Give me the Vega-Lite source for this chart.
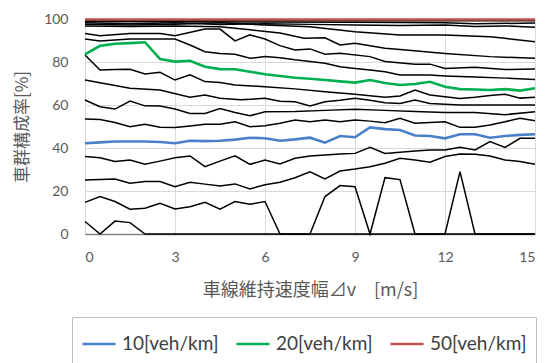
{
 "$schema": "https://vega.github.io/schema/vega-lite/v6.json",
 "width": 450, "height": 215,
 "autosize": {"type": "none"},
 "padding": {"left": 85, "top": 19, "right": 12, "bottom": 129},
 "config": {"view": {"stroke": null}, "font": "Lato"},
 "data": {"values": [
  {"s":"50[veh/km]","x":0,"v":99.8},{"s":"50[veh/km]","x":3,"v":99.8},{"s":"50[veh/km]","x":6,"v":99.8},{"s":"50[veh/km]","x":9,"v":99.8},{"s":"50[veh/km]","x":12,"v":99.8},{"s":"50[veh/km]","x":15,"v":99.8},
  {"s":"10[veh/km]","x":0,"v":42.2},{"s":"10[veh/km]","x":0.5,"v":42.6},{"s":"10[veh/km]","x":1,"v":43},{"s":"10[veh/km]","x":1.5,"v":43},{"s":"10[veh/km]","x":2,"v":43},{"s":"10[veh/km]","x":2.5,"v":42.8},{"s":"10[veh/km]","x":3,"v":42.2},{"s":"10[veh/km]","x":3.5,"v":43.4},{"s":"10[veh/km]","x":4,"v":43.2},{"s":"10[veh/km]","x":4.5,"v":43.4},{"s":"10[veh/km]","x":5,"v":43.9},{"s":"10[veh/km]","x":5.5,"v":44.8},{"s":"10[veh/km]","x":6,"v":44.5},{"s":"10[veh/km]","x":6.5,"v":43.4},{"s":"10[veh/km]","x":7,"v":44},{"s":"10[veh/km]","x":7.5,"v":44.8},{"s":"10[veh/km]","x":8,"v":42.5},{"s":"10[veh/km]","x":8.5,"v":45.6},{"s":"10[veh/km]","x":9,"v":45},{"s":"10[veh/km]","x":9.5,"v":49.6},{"s":"10[veh/km]","x":10,"v":48.8},{"s":"10[veh/km]","x":10.5,"v":48.4},{"s":"10[veh/km]","x":11,"v":45.8},{"s":"10[veh/km]","x":11.5,"v":45.6},{"s":"10[veh/km]","x":12,"v":44.5},{"s":"10[veh/km]","x":12.5,"v":46.4},{"s":"10[veh/km]","x":13,"v":46.4},{"s":"10[veh/km]","x":13.5,"v":44.8},{"s":"10[veh/km]","x":14,"v":45.6},{"s":"10[veh/km]","x":14.5,"v":46.1},{"s":"10[veh/km]","x":15,"v":46.4},
  {"s":"20[veh/km]","x":0,"v":83.6},{"s":"20[veh/km]","x":0.5,"v":87.5},{"s":"20[veh/km]","x":1,"v":88.5},{"s":"20[veh/km]","x":1.5,"v":88.8},{"s":"20[veh/km]","x":2,"v":89.2},{"s":"20[veh/km]","x":2.5,"v":81.4},{"s":"20[veh/km]","x":3,"v":80.2},{"s":"20[veh/km]","x":3.5,"v":80.6},{"s":"20[veh/km]","x":4,"v":77.8},{"s":"20[veh/km]","x":4.5,"v":76.7},{"s":"20[veh/km]","x":5,"v":76.6},{"s":"20[veh/km]","x":5.5,"v":75.5},{"s":"20[veh/km]","x":6,"v":74.3},{"s":"20[veh/km]","x":6.5,"v":73.5},{"s":"20[veh/km]","x":7,"v":72.7},{"s":"20[veh/km]","x":7.5,"v":72.2},{"s":"20[veh/km]","x":8,"v":71.6},{"s":"20[veh/km]","x":8.5,"v":71},{"s":"20[veh/km]","x":9,"v":70.4},{"s":"20[veh/km]","x":9.5,"v":71.6},{"s":"20[veh/km]","x":10,"v":70.2},{"s":"20[veh/km]","x":10.5,"v":69.3},{"s":"20[veh/km]","x":11,"v":69.8},{"s":"20[veh/km]","x":11.5,"v":70.8},{"s":"20[veh/km]","x":12,"v":68.5},{"s":"20[veh/km]","x":12.5,"v":67.4},{"s":"20[veh/km]","x":13,"v":67.2},{"s":"20[veh/km]","x":13.5,"v":67},{"s":"20[veh/km]","x":14,"v":67.4},{"s":"20[veh/km]","x":14.5,"v":66.7},{"s":"20[veh/km]","x":15,"v":67.8},
  {"s":"L1","x":0,"v":5.8},{"s":"L1","x":0.5,"v":0},{"s":"L1","x":1,"v":6},{"s":"L1","x":1.5,"v":5.3},{"s":"L1","x":2,"v":0},{"s":"L1","x":7.5,"v":0},{"s":"L1","x":8,"v":17.4},{"s":"L1","x":8.5,"v":22.5},{"s":"L1","x":9,"v":22},{"s":"L1","x":9.5,"v":0},{"s":"L1","x":10,"v":26.2},{"s":"L1","x":10.5,"v":25.3},{"s":"L1","x":11,"v":0},{"s":"L1","x":12,"v":0},{"s":"L1","x":12.5,"v":29},{"s":"L1","x":13,"v":0},{"s":"L1","x":15,"v":0},
  {"s":"L2","x":0,"v":14.7},{"s":"L2","x":0.5,"v":17.4},{"s":"L2","x":1,"v":15.1},{"s":"L2","x":1.5,"v":11.5},{"s":"L2","x":2,"v":12},{"s":"L2","x":2.5,"v":14.3},{"s":"L2","x":3,"v":11.6},{"s":"L2","x":3.5,"v":12.7},{"s":"L2","x":4,"v":14.7},{"s":"L2","x":4.5,"v":11.5},{"s":"L2","x":5,"v":15.1},{"s":"L2","x":5.5,"v":13.8},{"s":"L2","x":6,"v":15.1},{"s":"L2","x":6.5,"v":0},{"s":"L2","x":15,"v":0},
  {"s":"L3","x":0,"v":25.1},{"s":"L3","x":0.5,"v":25.3},{"s":"L3","x":1,"v":25.6},{"s":"L3","x":1.5,"v":23.6},{"s":"L3","x":2,"v":24.4},{"s":"L3","x":2.5,"v":24.4},{"s":"L3","x":3,"v":22},{"s":"L3","x":3.5,"v":24.1},{"s":"L3","x":4,"v":23.2},{"s":"L3","x":4.5,"v":22.3},{"s":"L3","x":5,"v":23.3},{"s":"L3","x":5.5,"v":21},{"s":"L3","x":6,"v":22.9},{"s":"L3","x":6.5,"v":24.1},{"s":"L3","x":7,"v":26.2},{"s":"L3","x":7.5,"v":28.9},{"s":"L3","x":8,"v":25.6},{"s":"L3","x":8.5,"v":29.3},{"s":"L3","x":9,"v":30.2},{"s":"L3","x":9.5,"v":31.3},{"s":"L3","x":10,"v":32.9},{"s":"L3","x":10.5,"v":35.2},{"s":"L3","x":11,"v":34.4},{"s":"L3","x":11.5,"v":33.4},{"s":"L3","x":12,"v":36},{"s":"L3","x":12.5,"v":37.2},{"s":"L3","x":13,"v":37.1},{"s":"L3","x":13.5,"v":36.3},{"s":"L3","x":14,"v":34.4},{"s":"L3","x":14.5,"v":33.7},{"s":"L3","x":15,"v":32.4},
  {"s":"L4","x":0,"v":36},{"s":"L4","x":0.5,"v":35.5},{"s":"L4","x":1,"v":33.7},{"s":"L4","x":1.5,"v":34.4},{"s":"L4","x":2,"v":32.4},{"s":"L4","x":2.5,"v":33.9},{"s":"L4","x":3,"v":35.5},{"s":"L4","x":3.5,"v":36.3},{"s":"L4","x":4,"v":31.3},{"s":"L4","x":4.5,"v":33.9},{"s":"L4","x":5,"v":36.4},{"s":"L4","x":5.5,"v":32.4},{"s":"L4","x":6,"v":34.4},{"s":"L4","x":6.5,"v":32.6},{"s":"L4","x":7,"v":35.2},{"s":"L4","x":7.5,"v":36.3},{"s":"L4","x":8,"v":36.7},{"s":"L4","x":8.5,"v":37.2},{"s":"L4","x":9,"v":37.5},{"s":"L4","x":9.5,"v":40.3},{"s":"L4","x":10,"v":37.5},{"s":"L4","x":10.5,"v":38},{"s":"L4","x":11,"v":38.6},{"s":"L4","x":11.5,"v":39.1},{"s":"L4","x":12,"v":39.1},{"s":"L4","x":12.5,"v":40.3},{"s":"L4","x":13,"v":39.1},{"s":"L4","x":13.5,"v":43},{"s":"L4","x":14,"v":40.3},{"s":"L4","x":14.5,"v":44.5},{"s":"L4","x":15,"v":44.5},
  {"s":"L5","x":0,"v":53.5},{"s":"L5","x":0.5,"v":53.3},{"s":"L5","x":1,"v":51.9},{"s":"L5","x":1.5,"v":49.9},{"s":"L5","x":2,"v":51},{"s":"L5","x":2.5,"v":49.6},{"s":"L5","x":3,"v":49.5},{"s":"L5","x":3.5,"v":50.2},{"s":"L5","x":4,"v":51},{"s":"L5","x":4.5,"v":51},{"s":"L5","x":5,"v":52.2},{"s":"L5","x":5.5,"v":49.9},{"s":"L5","x":6,"v":50.4},{"s":"L5","x":6.5,"v":51.5},{"s":"L5","x":7,"v":53},{"s":"L5","x":7.5,"v":52.2},{"s":"L5","x":8,"v":53},{"s":"L5","x":8.5,"v":52.2},{"s":"L5","x":9,"v":53},{"s":"L5","x":9.5,"v":52.5},{"s":"L5","x":10,"v":51.8},{"s":"L5","x":10.5,"v":53.8},{"s":"L5","x":11,"v":51.5},{"s":"L5","x":11.5,"v":51.9},{"s":"L5","x":12,"v":52.2},{"s":"L5","x":12.5,"v":49.6},{"s":"L5","x":13,"v":49.6},{"s":"L5","x":13.5,"v":50.7},{"s":"L5","x":14,"v":52.2},{"s":"L5","x":14.5,"v":53.8},{"s":"L5","x":15,"v":52.7},
  {"s":"LA","x":0,"v":62.3},{"s":"LA","x":0.5,"v":59.2},{"s":"LA","x":1,"v":58.1},{"s":"LA","x":1.5,"v":61.8},{"s":"LA","x":2,"v":59.6},{"s":"LA","x":2.5,"v":59.5},{"s":"LA","x":3,"v":58.1},{"s":"LA","x":3.5,"v":56.1},{"s":"LA","x":4,"v":56.1},{"s":"LA","x":4.5,"v":58.4},{"s":"LA","x":5,"v":56.5},{"s":"LA","x":5.5,"v":55},{"s":"LA","x":6,"v":56.9},{"s":"LA","x":7,"v":57},{"s":"LA","x":8,"v":57.5},{"s":"LA","x":9,"v":58},{"s":"LA","x":10,"v":57.5},{"s":"LA","x":11,"v":57},{"s":"LA","x":12,"v":56.5},{"s":"LA","x":13,"v":56.5},{"s":"LA","x":14,"v":55.5},{"s":"LA","x":15,"v":56.9},
  {"s":"L71","x":0,"v":71.6},{"s":"L71","x":1.5,"v":67.8},{"s":"L71","x":2.5,"v":67},{"s":"L71","x":3.5,"v":63.6},{"s":"L71","x":4,"v":64.7},{"s":"L71","x":4.5,"v":63.1},{"s":"L71","x":5.2,"v":62.4},{"s":"L71","x":6,"v":63.1},{"s":"L71","x":6.5,"v":61.8},{"s":"L71","x":7,"v":61.5},{"s":"L71","x":7.5,"v":59.5},{"s":"L71","x":8,"v":61.5},{"s":"L71","x":8.5,"v":62.2},{"s":"L71","x":9,"v":63.1},{"s":"L71","x":9.5,"v":62.2},{"s":"L71","x":10,"v":61.1},{"s":"L71","x":10.5,"v":60.7},{"s":"L71","x":11,"v":62.3},{"s":"L71","x":11.5,"v":60.7},{"s":"L71","x":12,"v":60.3},{"s":"L71","x":12.5,"v":60},{"s":"L71","x":15,"v":60},
  {"s":"L84","x":0,"v":83.3},{"s":"L84","x":0.5,"v":76.3},{"s":"L84","x":1,"v":76.5},{"s":"L84","x":1.5,"v":76.6},{"s":"L84","x":2,"v":74.4},{"s":"L84","x":2.5,"v":75.2},{"s":"L84","x":3,"v":71.6},{"s":"L84","x":3.5,"v":74},{"s":"L84","x":4,"v":70.9},{"s":"L84","x":4.5,"v":70.5},{"s":"L84","x":5,"v":69.3},{"s":"L84","x":6,"v":68.5},{"s":"L84","x":7,"v":67.5},{"s":"L84","x":8,"v":66.2},{"s":"L84","x":9,"v":65},{"s":"L84","x":10,"v":63.6},{"s":"L84","x":10.5,"v":64.2},{"s":"L84","x":11,"v":67},{"s":"L84","x":11.5,"v":64.7},{"s":"L84","x":12,"v":63.8},{"s":"L84","x":12.5,"v":63},{"s":"L84","x":13,"v":63.6},{"s":"L84","x":13.5,"v":64.4},{"s":"L84","x":14,"v":65},{"s":"L84","x":14.5,"v":63.2},{"s":"L84","x":15,"v":63.6},
  {"s":"T1","x":0,"v":99.3},{"s":"T1","x":5,"v":99.3},{"s":"T1","x":10,"v":99.2},{"s":"T1","x":15,"v":99.2},
  {"s":"T2","x":0,"v":98.8},{"s":"T2","x":3,"v":98.7},{"s":"T2","x":6,"v":98.6},{"s":"T2","x":9,"v":98.5},{"s":"T2","x":12,"v":98.3},{"s":"T2","x":13,"v":97.8},{"s":"T2","x":15,"v":98.1},
  {"s":"T3","x":0,"v":98.3},{"s":"T3","x":1.5,"v":97.8},{"s":"T3","x":3,"v":98.2},{"s":"T3","x":4.5,"v":97.5},{"s":"T3","x":6,"v":97.8},{"s":"T3","x":7.5,"v":97.5},{"s":"T3","x":9,"v":97.2},{"s":"T3","x":10.5,"v":97},{"s":"T3","x":12,"v":97.2},{"s":"T3","x":13,"v":96.5},{"s":"T3","x":14,"v":96.8},{"s":"T3","x":15,"v":96.2},
  {"s":"T4","x":0,"v":97.6},{"s":"T4","x":1.5,"v":97.2},{"s":"T4","x":3,"v":97.6},{"s":"T4","x":4.5,"v":98.2},{"s":"T4","x":6,"v":97.2},{"s":"T4","x":7.5,"v":96.4},{"s":"T4","x":9,"v":94.1},{"s":"T4","x":10.5,"v":92.6},{"s":"T4","x":12,"v":92.6},{"s":"T4","x":13.5,"v":91.8},{"s":"T4","x":14,"v":91},{"s":"T4","x":15,"v":89.4},
  {"s":"T5","x":0,"v":96.8},{"s":"T5","x":1.5,"v":96.5},{"s":"T5","x":3,"v":96.8},{"s":"T5","x":4.5,"v":96.4},{"s":"T5","x":5.5,"v":95},{"s":"T5","x":6.5,"v":93.5},{"s":"T5","x":7.3,"v":91},{"s":"T5","x":8,"v":91.3},{"s":"T5","x":8.5,"v":87.9},{"s":"T5","x":9,"v":88.7},{"s":"T5","x":10,"v":86.4},{"s":"T5","x":10.7,"v":85.6},{"s":"T5","x":12,"v":84},{"s":"T5","x":13.5,"v":82.5},{"s":"T5","x":15,"v":81.7},
  {"s":"T6","x":0,"v":93.3},{"s":"T6","x":0.5,"v":92.2},{"s":"T6","x":1.5,"v":93.3},{"s":"T6","x":2.5,"v":93.3},{"s":"T6","x":3,"v":92.2},{"s":"T6","x":4,"v":95.3},{"s":"T6","x":4.5,"v":95.3},{"s":"T6","x":5,"v":89.8},{"s":"T6","x":5.5,"v":92.6},{"s":"T6","x":6,"v":90.7},{"s":"T6","x":6.5,"v":87.6},{"s":"T6","x":7,"v":85.6},{"s":"T6","x":7.5,"v":86.1},{"s":"T6","x":8,"v":83.6},{"s":"T6","x":8.5,"v":84.1},{"s":"T6","x":9.5,"v":82.5},{"s":"T6","x":10,"v":80.2},{"s":"T6","x":11,"v":79},{"s":"T6","x":11.5,"v":79},{"s":"T6","x":12,"v":77},{"s":"T6","x":13,"v":77.5},{"s":"T6","x":14,"v":76.5},{"s":"T6","x":15,"v":76.7},
  {"s":"T7","x":0,"v":90.7},{"s":"T7","x":0.5,"v":89.8},{"s":"T7","x":1.5,"v":90.7},{"s":"T7","x":2.5,"v":90.7},{"s":"T7","x":3,"v":90.7},{"s":"T7","x":3.5,"v":87.9},{"s":"T7","x":4,"v":84.8},{"s":"T7","x":4.5,"v":84},{"s":"T7","x":5,"v":83.6},{"s":"T7","x":5.5,"v":81.7},{"s":"T7","x":6,"v":82.5},{"s":"T7","x":6.5,"v":82},{"s":"T7","x":7,"v":81},{"s":"T7","x":7.5,"v":80.2},{"s":"T7","x":8,"v":79.4},{"s":"T7","x":8.5,"v":77.8},{"s":"T7","x":9,"v":77},{"s":"T7","x":9.5,"v":76.3},{"s":"T7","x":10,"v":75.5},{"s":"T7","x":10.5,"v":74},{"s":"T7","x":11,"v":73.9},{"s":"T7","x":11.5,"v":73.9},{"s":"T7","x":12,"v":73.5},{"s":"T7","x":13,"v":73},{"s":"T7","x":14,"v":72.5},{"s":"T7","x":15,"v":71.9}
 ]},
 "layer": [
  {
   "transform": [{"filter": "indexof(['10[veh/km]','20[veh/km]','50[veh/km]'], datum.s) < 0"}],
   "mark": {"type": "line", "color": "#000000", "strokeWidth": 1.5},
   "encoding": {
    "x": {"field": "x", "type": "quantitative", "scale": {"domain": [0, 15], "nice": false},
     "axis": {"values": [0, 3, 6, 9, 12, 15], "title": "車線維持速度幅⊿v　[m/s]", "titleFont": "Noto Sans CJK JP", "titleFontSize": 18, "titleFontWeight": "normal", "titleColor": "#595959", "titlePadding": 17, "labelFontSize": 14, "labelColor": "#595959", "labelPadding": 16, "ticks": false, "grid": true, "gridColor": "#d9d9d9", "domainColor": "#808080", "domainWidth": 1.5}},
    "y": {"field": "v", "type": "quantitative", "scale": {"domain": [0, 100], "nice": false},
     "axis": {"values": [0, 20, 40, 60, 80, 100], "title": "車群構成率[%]", "titleFont": "Noto Sans CJK JP", "titleFontSize": 17, "titleFontWeight": "normal", "titleColor": "#595959", "titlePadding": 12, "labelFontSize": 14, "labelColor": "#595959", "labelPadding": 17, "ticks": false, "domain": false, "grid": true, "gridColor": "#d9d9d9"}},
    "detail": {"field": "s"}
   }
  },
  {
   "transform": [{"filter": "indexof(['10[veh/km]','20[veh/km]','50[veh/km]'], datum.s) >= 0"}],
   "mark": {"type": "line", "strokeWidth": 2.6},
   "encoding": {
    "x": {"field": "x", "type": "quantitative"},
    "y": {"field": "v", "type": "quantitative"},
    "color": {"field": "s", "type": "nominal",
     "scale": {"domain": ["10[veh/km]", "20[veh/km]", "50[veh/km]"], "range": ["#4a7fc9", "#00b050", "#c0504d"]},
     "legend": {"title": null, "orient": "none", "legendX": -13, "legendY": 298, "direction": "horizontal", "symbolType": "stroke", "symbolSize": 1100, "symbolStrokeWidth": 2.6, "labelFont": "Lato", "labelFontSize": 19, "labelColor": "#404040", "strokeColor": "#bfbfbf", "padding": 9, "columnPadding": 12, "labelOffset": 5}}
   }
  }
 ]
}
